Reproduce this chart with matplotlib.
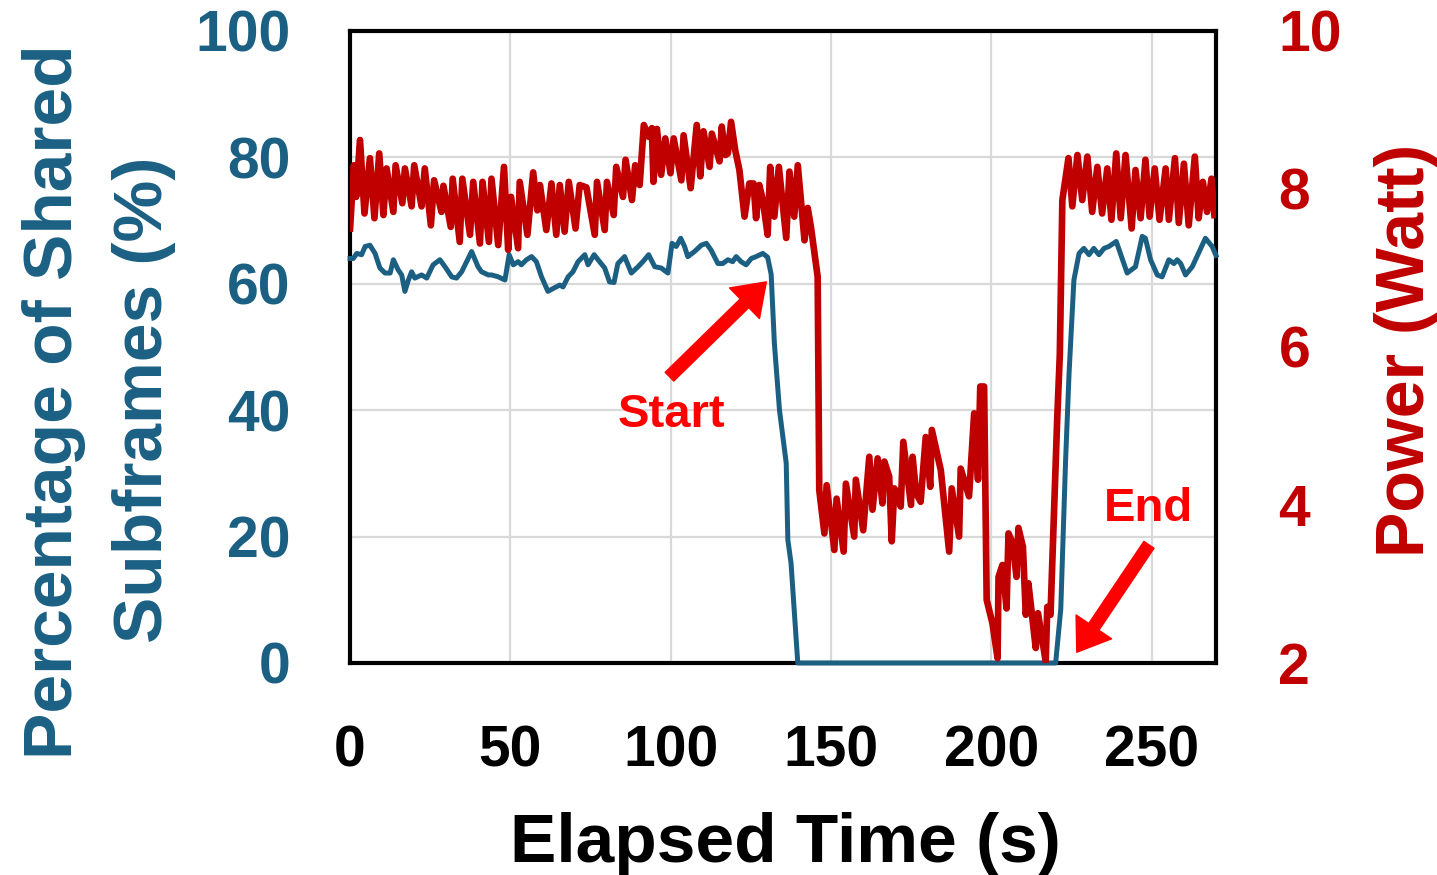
import numpy as np
import matplotlib
matplotlib.use("Agg")
import matplotlib.pyplot as plt

plt.rcParams['font.family'] = ['Liberation Sans', 'DejaVu Sans']
plt.rcParams['font.weight'] = 'bold'

BLUE = '#1b6083'
DARK_RED = '#c00000'
RED = '#ff0000'

# share of subframes (%) over time (s)
share_t = [0, 1.0, 2.1, 3.6, 4.7, 6.2, 7.8, 9.3, 10.9, 12.5, 13.5, 15.0, 16.1, 17.1,
           18.2, 19.2, 20.2, 22.3, 23.9, 25.9, 28.0, 29.6, 31.7, 33.2, 34.8, 37.9,
           39.9, 41.0, 43.1, 44.1, 46.2, 48.3, 49.6, 50.9, 52.4, 53.4, 55.0, 56.6,
           58.1, 59.7, 61.7, 63.5, 65.4, 66.4, 68.0, 69.5, 71.1, 73.2, 74.2, 76.1,
           77.8, 79.4, 80.9, 82.3, 83.5, 85.6, 87.7, 89.8, 91.3, 93.1, 95.0, 97.0,
           99.1, 100.4, 101.7, 103.1, 104.3, 105.3, 107.4, 109.5, 111.1, 112.6,
           114.7, 116.2, 117.8, 119.3, 120.4, 121.9, 123.5, 125.1, 126.6, 128.7,
           130.2, 131.3, 132.3, 133.9, 136.0, 136.5, 137.5, 139.6, 220.0, 221.6,
           223.1, 224.2, 225.7, 227.3, 228.8, 230.4, 231.9, 233.5, 235.1, 236.6,
           238.9, 242.3, 244.9, 247.0, 248.0, 249.6, 251.7, 253.2, 255.3, 256.9,
           257.9, 259.0, 260.5, 262.6, 266.7, 268.8, 270]
share_v = [64.0, 64.0, 64.8, 64.6, 65.9, 66.1, 64.8, 62.5, 61.7, 61.7, 63.8, 62.2, 61.4, 58.8,
           60.6, 61.9, 60.9, 61.4, 60.9, 63.0, 63.8, 62.7, 61.1, 60.9, 61.9, 65.1,
           62.7, 61.9, 61.4, 61.4, 61.1, 60.6, 64.6, 63.0, 63.5, 63.0, 63.8, 64.3,
           63.5, 61.1, 58.8, 59.3, 59.8, 59.5, 61.1, 61.9, 63.5, 64.6, 63.0, 64.6,
           63.5, 62.5, 60.3, 60.2, 63.2, 64.3, 61.7, 62.7, 63.5, 64.6, 62.7, 62.5,
           61.7, 66.4, 65.9, 67.2, 65.9, 64.3, 65.1, 66.1, 66.4, 65.3,
           63.2, 63.2, 63.8, 63.5, 64.3, 63.5, 63.0, 64.0, 64.3, 64.8,
           64.2, 61.5, 50.6, 40.0, 31.6, 19.5, 15.8, 0.0, 0.0, 8.5,
           32.0, 46.0, 60.6, 64.8, 65.6, 64.6, 65.6, 64.6, 65.6, 65.9,
           66.7, 61.7, 62.7, 67.5, 67.2, 63.8, 61.4, 61.1, 63.8, 63.2,
           63.8, 63.2, 61.4, 62.7, 67.2, 65.9, 64.5]

# power draw (W) over time (s)
power_t = [0, 1.2, 1.9, 3.1, 4.5, 6.2, 7.6, 9.1, 10.4, 11.4, 13.5, 14.2, 16.3, 17.1,
           19.2, 20.0, 22.3, 23.3, 25.2, 26.2, 28.5, 29.1, 31.4, 32.0, 34.2, 35.0,
           37.4, 38.4, 40.5, 41.3, 43.3, 44.1, 46.2, 48.0, 49.3, 50.2, 52.4, 52.9,
           55.3, 57.1, 58.4, 59.2, 61.2, 62.8, 64.3, 65.4, 66.9, 68.2, 70.3, 71.6,
           73.7, 76.3, 77.0, 79.4, 80.1, 82.2, 83.0, 85.1, 85.9, 87.9, 88.9, 90.3,
           91.6, 93.1, 94.1, 94.6, 95.7, 97.0, 98.3, 99.9, 100.9, 103.3, 104.0,
           106.2, 108.1, 109.2, 110.2, 112.1, 112.8, 115.2, 115.9, 117.0, 117.8,
           118.8, 120.1, 121.4, 123.0, 124.5, 125.8, 126.6, 127.6, 128.7, 130.2,
           131.0, 132.3, 133.7, 136.0, 137.0, 138.5, 139.6, 141.7, 142.7, 143.7,
           145.8, 146.3, 147.9, 148.6, 151.0, 151.7, 153.9, 154.6, 157.2, 157.7,
           160.0, 161.9, 162.9, 164.5, 166.0, 166.6, 168.1, 168.9, 169.7, 170.7,
           171.7, 172.5, 174.9, 175.4, 176.5, 177.9, 179.5, 180.9, 181.4, 184.2,
           186.8, 187.6, 189.9, 190.4, 193.0, 194.6, 195.8, 196.5, 197.7, 198.5,
           200.3, 201.9, 202.2, 203.4, 204.7, 205.3, 206.6, 207.8, 208.4, 209.8,
           210.7, 211.5, 213.8, 214.5, 216.9, 217.4, 218.4, 219.5, 220.5, 221.3,
           222.1, 224.0, 225.2, 226.8, 228.3, 229.9, 231.4, 233.0, 234.5, 236.1,
           237.4, 238.9, 240.3, 241.8, 243.7, 244.9, 246.5, 248.0, 249.3, 250.9,
           252.4, 254.3, 255.3, 257.2, 258.4, 260.0, 261.5, 263.4, 264.6, 265.9,
           267.2, 268.6, 269.5]
power_v = [7.50, 8.30, 7.90, 8.62, 7.69, 8.39, 7.63, 8.45, 7.67, 8.26, 7.71, 8.30, 7.82, 8.26,
           7.78, 8.30, 7.78, 8.26, 7.54, 8.11, 7.71, 8.04, 7.52, 8.13, 7.33, 8.13,
           7.42, 8.09, 7.31, 8.09, 7.33, 8.13, 7.29, 8.28, 7.23, 7.90, 7.25, 8.09,
           7.42, 8.21, 7.73, 8.05, 7.48, 8.07, 7.42, 8.05, 7.46, 8.09, 7.50, 8.05,
           8.02, 7.42, 8.09, 7.48, 8.09, 7.67, 8.28, 7.90, 8.37, 7.86, 8.30, 8.05,
           8.81, 8.66, 8.77, 8.09, 8.76, 8.18, 8.64, 8.20, 8.64, 8.11, 8.68,
           8.01, 8.81, 8.16, 8.73, 8.28, 8.70, 8.35, 8.79, 8.43, 8.45,
           8.85, 8.49, 8.24, 7.65, 8.07, 8.07, 7.63, 8.05, 7.86, 7.42,
           8.28, 7.65, 8.28, 7.38, 8.22, 7.65, 8.30, 7.35, 7.76, 7.52,
           6.89, 4.19, 3.64, 4.25, 3.43, 4.08, 3.41, 4.27, 3.60, 4.32,
           3.68, 4.61, 3.94, 4.59, 4.02, 4.55, 4.36, 3.54, 4.21, 4.15,
           3.98, 4.80, 4.00, 4.61, 4.15, 4.04, 4.86, 4.23, 4.95, 4.44,
           3.41, 4.21, 3.60, 4.46, 4.11, 5.16, 4.32, 5.50, 5.50, 2.80,
           2.50, 2.06, 3.09, 3.24, 2.69, 3.64, 3.52, 3.09, 3.71, 3.47,
           2.61, 3.01, 2.19, 2.63, 2.02, 2.71, 2.61, 3.90, 5.10, 5.90,
           7.86, 8.39, 7.78, 8.43, 7.86, 8.41, 7.71, 8.28, 7.69, 8.26,
           7.61, 8.45, 7.63, 8.43, 7.50, 8.24, 7.63, 8.37, 7.65, 8.26,
           7.61, 8.26, 7.61, 8.39, 7.57, 8.32, 7.54, 8.41, 7.63, 8.09,
           7.71, 8.13, 7.67]

x_ticks = [0, 50, 100, 150, 200, 250]
share_ticks = [0, 20, 40, 60, 80, 100]
power_ticks = [2, 4, 6, 8, 10]

fig = plt.figure(figsize=(14.37, 8.75), dpi=100)
ax = fig.add_axes([0.2436, 0.2423, 0.6026, 0.7223])
ax2 = ax.twinx()

ax.plot(share_t, share_v, color=BLUE, lw=3.6, zorder=3, clip_on=False)
ax2.plot(power_t, power_v, color=DARK_RED, lw=4.8, zorder=3)

ax.set_xlim(0, 270)
ax.set_ylim(0, 100)
ax2.set_ylim(2, 10)
ax.set_xticks(x_ticks)
ax.set_yticks(share_ticks)
ax2.set_yticks(power_ticks)

ax.grid(color='#d9d9d9', lw=1.6)
ax.set_axisbelow(True)

ax.tick_params(axis='x', length=0, pad=44, labelsize=41, labelcolor='black')
ax.tick_params(axis='y', length=0, pad=43, labelsize=41, labelcolor=BLUE)
ax2.tick_params(axis='y', length=0, pad=45, labelsize=41, labelcolor=DARK_RED)
# the frame comes from the left axes only, so the zero line shows over it
for s in ax.spines.values():
    s.set_linewidth(3)
    s.set_color('black')
for s in ax2.spines.values():
    s.set_visible(False)

# axis titles
fig.text(72 / 1437, 1 - 402 / 875, 'Percentage of Shared', rotation=90,
         rotation_mode='anchor', ha='center', va='baseline', fontsize=50, color=BLUE)
fig.text(162 / 1437, 1 - 400 / 875, 'Subframes (%)', rotation=90,
         rotation_mode='anchor', ha='center', va='baseline', fontsize=50, color=BLUE)
fig.text(1424 / 1437, 1 - 350 / 875, 'Power (Watt)', rotation=90,
         rotation_mode='anchor', ha='center', va='baseline', fontsize=49, color=DARK_RED)
fig.text(785 / 1437, 1 - 862 / 875, 'Elapsed Time (s)', ha='center', va='baseline',
         fontsize=50, color='black')

# start / end markers
arrow = dict(arrowstyle='simple,head_length=1.0,head_width=1.4,tail_width=0.4',
             color=RED, mutation_scale=22, shrinkA=0, shrinkB=0)
ax.annotate('', xy=(129.8, 60.3), xytext=(99.6, 45.3), arrowprops=arrow, zorder=5)
ax.annotate('', xy=(226.6, 1.7), xytext=(249.1, 18.7), arrowprops=arrow, zorder=5)
ax.text(100.2, 39.3, 'Start', color=RED, fontsize=34, ha='center', va='center', zorder=5)
ax.text(249.1, 24.3, 'End', color=RED, fontsize=34, ha='center', va='center', zorder=5)

fig.savefig('out.png', dpi=100)
